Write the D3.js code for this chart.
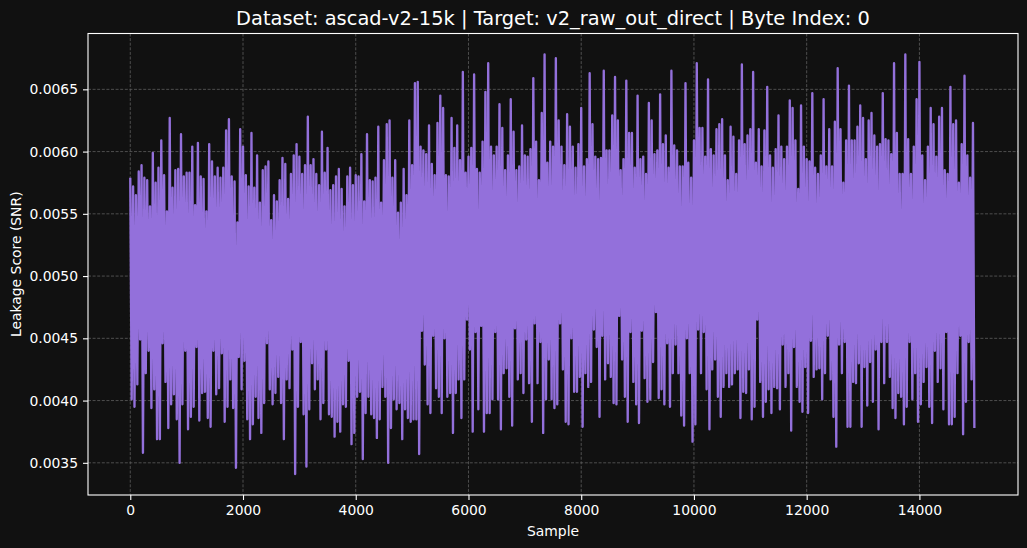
<!DOCTYPE html>
<html>
<head>
<meta charset="utf-8">
<script src="https://cdn.jsdelivr.net/npm/d3@7"></script>
<style>
  body { margin: 0; background: #111111; overflow: hidden; }
  text { font-family: 'DejaVu Sans', sans-serif; fill: #ffffff; }
</style>
</head>
<body>
<script>
// labels
const chartTitle = 'Dataset: ascad-v2-15k | Target: v2_raw_out_direct | Byte Index: 0';
const xLabel = 'Sample';
const yLabel = 'Leakage Score (SNR)';

// trace: 15000 samples, kept as min/max per 50-sample window
const sampleCount = 15000;
const windowSize = 50;

const xTicks = [0, 2000, 4000, 6000, 8000, 10000, 12000, 14000];
const yTicks = [0.0035, 0.0040, 0.0045, 0.0050, 0.0055, 0.0060, 0.0065];

const windowMax = [
  0.00579, 0.00572, 0.00565, 0.00584, 0.00589, 0.00579, 0.00577, 0.00556, 0.00599, 0.00575,
  0.00587, 0.00609, 0.00581, 0.00552, 0.00627, 0.00571, 0.00585, 0.00586, 0.00614, 0.00580,
  0.00583, 0.00583, 0.00604, 0.00557, 0.00607, 0.00580, 0.00578, 0.00552, 0.00606, 0.00592,
  0.00580, 0.00587, 0.00579, 0.00587, 0.00617, 0.00626, 0.00580, 0.00576, 0.00543, 0.00618,
  0.00604, 0.00581, 0.00572, 0.00615, 0.00571, 0.00597, 0.00559, 0.00585, 0.00588, 0.00592,
  0.00545, 0.00565, 0.00560, 0.00577, 0.00595, 0.00590, 0.00562, 0.00582, 0.00597, 0.00606,
  0.00596, 0.00582, 0.00589, 0.00628, 0.00589, 0.00594, 0.00582, 0.00573, 0.00616, 0.00583,
  0.00603, 0.00569, 0.00573, 0.00580, 0.00586, 0.00570, 0.00556, 0.00580, 0.00587, 0.00573,
  0.00581, 0.00580, 0.00598, 0.00560, 0.00614, 0.00577, 0.00576, 0.00579, 0.00620, 0.00559,
  0.00593, 0.00622, 0.00625, 0.00579, 0.00593, 0.00551, 0.00559, 0.00586, 0.00565, 0.00625,
  0.00589, 0.00655, 0.00656, 0.00604, 0.00601, 0.00598, 0.00621, 0.00590, 0.00581, 0.00623,
  0.00645, 0.00635, 0.00581, 0.00580, 0.00627, 0.00603, 0.00621, 0.00593, 0.00664, 0.00583,
  0.00596, 0.00603, 0.00662, 0.00586, 0.00583, 0.00608, 0.00648, 0.00671, 0.00604, 0.00597,
  0.00604, 0.00638, 0.00619, 0.00585, 0.00597, 0.00642, 0.00616, 0.00585, 0.00588, 0.00621,
  0.00597, 0.00596, 0.00602, 0.00659, 0.00608, 0.00577, 0.00631, 0.00678, 0.00591, 0.00608,
  0.00604, 0.00675, 0.00625, 0.00604, 0.00589, 0.00630, 0.00620, 0.00604, 0.00587, 0.00606,
  0.00635, 0.00588, 0.00594, 0.00663, 0.00622, 0.00596, 0.00594, 0.00595, 0.00665, 0.00601,
  0.00601, 0.00629, 0.00660, 0.00625, 0.00585, 0.00594, 0.00657, 0.00615, 0.00615, 0.00587,
  0.00645, 0.00594, 0.00596, 0.00582, 0.00639, 0.00625, 0.00598, 0.00601, 0.00646, 0.00606,
  0.00613, 0.00587, 0.00665, 0.00605, 0.00601, 0.00588, 0.00588, 0.00655, 0.00591, 0.00579,
  0.00609, 0.00671, 0.00619, 0.00619, 0.00596, 0.00658, 0.00602, 0.00597, 0.00618, 0.00622,
  0.00626, 0.00597, 0.00577, 0.00620, 0.00612, 0.00582, 0.00609, 0.00670, 0.00606, 0.00613,
  0.00618, 0.00664, 0.00591, 0.00618, 0.00588, 0.00617, 0.00652, 0.00597, 0.00587, 0.00602,
  0.00629, 0.00604, 0.00594, 0.00604, 0.00641, 0.00635, 0.00609, 0.00570, 0.00637, 0.00604,
  0.00594, 0.00592, 0.00647, 0.00587, 0.00582, 0.00597, 0.00642, 0.00588, 0.00618, 0.00588,
  0.00624, 0.00667, 0.00618, 0.00575, 0.00609, 0.00653, 0.00609, 0.00609, 0.00620, 0.00637,
  0.00627, 0.00594, 0.00625, 0.00631, 0.00613, 0.00604, 0.00606, 0.00647, 0.00610, 0.00609,
  0.00598, 0.00671, 0.00615, 0.00582, 0.00582, 0.00678, 0.00610, 0.00582, 0.00604, 0.00642,
  0.00672, 0.00597, 0.00577, 0.00604, 0.00635, 0.00622, 0.00596, 0.00628, 0.00635, 0.00585,
  0.00582, 0.00652, 0.00622, 0.00625, 0.00575, 0.00606, 0.00661, 0.00597, 0.00579, 0.00623
];

const windowMin = [
  0.00401, 0.00395, 0.00413, 0.00449, 0.00358, 0.00422, 0.00440, 0.00394, 0.00409, 0.00369,
  0.00369, 0.00446, 0.00415, 0.00378, 0.00397, 0.00405, 0.00385, 0.00350, 0.00397, 0.00440,
  0.00377, 0.00387, 0.00395, 0.00443, 0.00384, 0.00406, 0.00407, 0.00386, 0.00379, 0.00440,
  0.00405, 0.00410, 0.00438, 0.00383, 0.00395, 0.00417, 0.00394, 0.00346, 0.00435, 0.00409,
  0.00432, 0.00385, 0.00369, 0.00381, 0.00403, 0.00386, 0.00374, 0.00398, 0.00446, 0.00409,
  0.00397, 0.00406, 0.00419, 0.00398, 0.00369, 0.00417, 0.00410, 0.00441, 0.00341, 0.00395,
  0.00447, 0.00389, 0.00347, 0.00393, 0.00430, 0.00409, 0.00417, 0.00385, 0.00398, 0.00441,
  0.00389, 0.00387, 0.00371, 0.00383, 0.00375, 0.00397, 0.00395, 0.00432, 0.00365, 0.00374,
  0.00403, 0.00407, 0.00353, 0.00390, 0.00403, 0.00389, 0.00386, 0.00370, 0.00385, 0.00411,
  0.00403, 0.00350, 0.00378, 0.00401, 0.00393, 0.00398, 0.00369, 0.00393, 0.00386, 0.00383,
  0.00385, 0.00385, 0.00357, 0.00456, 0.00429, 0.00397, 0.00390, 0.00452, 0.00410, 0.00403,
  0.00390, 0.00450, 0.00403, 0.00406, 0.00374, 0.00406, 0.00417, 0.00386, 0.00417, 0.00465,
  0.00441, 0.00375, 0.00455, 0.00393, 0.00460, 0.00375, 0.00390, 0.00390, 0.00401, 0.00455,
  0.00401, 0.00377, 0.00422, 0.00426, 0.00403, 0.00380, 0.00458, 0.00417, 0.00422, 0.00406,
  0.00449, 0.00414, 0.00383, 0.00462, 0.00414, 0.00447, 0.00374, 0.00401, 0.00433, 0.00401,
  0.00394, 0.00397, 0.00462, 0.00425, 0.00383, 0.00381, 0.00450, 0.00407, 0.00407, 0.00419,
  0.00379, 0.00422, 0.00411, 0.00415, 0.00457, 0.00443, 0.00387, 0.00452, 0.00417, 0.00430,
  0.00419, 0.00398, 0.00397, 0.00468, 0.00433, 0.00403, 0.00383, 0.00455, 0.00415, 0.00397,
  0.00382, 0.00456, 0.00418, 0.00399, 0.00401, 0.00431, 0.00471, 0.00402, 0.00409, 0.00397,
  0.00446, 0.00395, 0.00422, 0.00445, 0.00422, 0.00388, 0.00380, 0.00450, 0.00422, 0.00367,
  0.00381, 0.00457, 0.00422, 0.00455, 0.00409, 0.00377, 0.00425, 0.00433, 0.00403, 0.00387,
  0.00411, 0.00422, 0.00411, 0.00413, 0.00422, 0.00425, 0.00386, 0.00407, 0.00406, 0.00425,
  0.00385, 0.00395, 0.00465, 0.00415, 0.00387, 0.00399, 0.00409, 0.00390, 0.00411, 0.00410,
  0.00393, 0.00445, 0.00411, 0.00422, 0.00376, 0.00443, 0.00411, 0.00399, 0.00391, 0.00427,
  0.00390, 0.00448, 0.00419, 0.00425, 0.00426, 0.00401, 0.00422, 0.00452, 0.00417, 0.00387,
  0.00363, 0.00445, 0.00422, 0.00447, 0.00379, 0.00379, 0.00415, 0.00414, 0.00430, 0.00379,
  0.00427, 0.00396, 0.00431, 0.00399, 0.00441, 0.00377, 0.00447, 0.00414, 0.00447, 0.00419,
  0.00394, 0.00386, 0.00406, 0.00403, 0.00381, 0.00395, 0.00447, 0.00401, 0.00422, 0.00383,
  0.00397, 0.00415, 0.00427, 0.00395, 0.00382, 0.00440, 0.00415, 0.00426, 0.00393, 0.00455,
  0.00381, 0.00381, 0.00387, 0.00422, 0.00452, 0.00373, 0.00399, 0.00447, 0.00417, 0.00378
];

const width = 1027;
const height = 548;
const margin = {top: 33.5, right: 9, bottom: 53, left: 88};
const plotW = width - margin.left - margin.right;
const plotH = height - margin.top - margin.bottom;

const svg = d3.select(document.body)
    .append('svg')
    .attr('width', width)
    .attr('height', height)
    .style('background', '#111111');

// max then min of each window, in sample order
const trace = [];
windowMax.forEach(function(v, i){
    trace.push({x: i * windowSize, y: v});
    trace.push({x: i * windowSize + windowSize / 2, y: windowMin[i]});
});

// matplotlib-like 5% auto margins
const xPad = (sampleCount - 1) * 0.05;
const xScale = d3.scaleLinear()
    .domain([-xPad, sampleCount - 1 + xPad])
    .range([margin.left, margin.left + plotW]);

const yExt = d3.extent(trace, function(d){ return d.y; });
const yPad = (yExt[1] - yExt[0]) * 0.05;
const yScale = d3.scaleLinear()
    .domain([yExt[0] - yPad, yExt[1] + yPad])
    .range([margin.top + plotH, margin.top]);

// grid
const grid = svg.append('g').attr('class', 'grid')
    .attr('stroke', '#5e5e5e')
    .attr('stroke-width', 0.8)
    .attr('stroke-dasharray', '3,1.6');
grid.selectAll('.gx').data(xTicks).enter().append('line')
    .attr('x1', function(d){ return xScale(d); })
    .attr('x2', function(d){ return xScale(d); })
    .attr('y1', margin.top)
    .attr('y2', margin.top + plotH);
grid.selectAll('.gy').data(yTicks).enter().append('line')
    .attr('y1', function(d){ return yScale(d); })
    .attr('y2', function(d){ return yScale(d); })
    .attr('x1', margin.left)
    .attr('x2', margin.left + plotW);

// line
const lineGen = d3.line()
    .x(function(d){ return xScale(d.x); })
    .y(function(d){ return yScale(d.y); });

svg.append('path')
    .attr('d', lineGen(trace))
    .attr('fill', 'none')
    .attr('stroke', '#9370db')
    .attr('stroke-width', 2.35)
    .attr('stroke-linejoin', 'round');

// axes
function styleAxis(g){
    g.select('.domain').remove();
    g.selectAll('.tick line').attr('stroke', '#ffffff').attr('stroke-width', 1.1);
    g.selectAll('.tick text')
        .attr('fill', '#ffffff')
        .style('font-family', "'DejaVu Sans', sans-serif")
        .style('font-size', '13.9px');
}

svg.append('g')
    .attr('transform', 'translate(0,' + (margin.top + plotH) + ')')
    .call(d3.axisBottom(xScale).tickValues(xTicks).tickSize(5).tickPadding(5).tickFormat(d3.format('d')))
    .call(styleAxis);

svg.append('g')
    .attr('transform', 'translate(' + margin.left + ',0)')
    .call(d3.axisLeft(yScale).tickValues(yTicks).tickSize(5).tickPadding(5).tickFormat(d3.format('.4f')))
    .call(styleAxis);

// spines
svg.append('rect')
    .attr('x', margin.left)
    .attr('y', margin.top)
    .attr('width', plotW)
    .attr('height', plotH)
    .attr('fill', 'none')
    .attr('stroke', '#ffffff')
    .attr('stroke-width', 1.1);

// labels
svg.append('text')
    .attr('x', margin.left + plotW / 2)
    .attr('y', 25)
    .attr('text-anchor', 'middle')
    .style('font-size', '19.4px')
    .text(chartTitle);

svg.append('text')
    .attr('x', margin.left + plotW / 2)
    .attr('y', 536)
    .attr('text-anchor', 'middle')
    .style('font-size', '13.9px')
    .text(xLabel);

svg.append('text')
    .attr('transform', 'translate(21,' + (margin.top + plotH / 2) + ') rotate(-90)')
    .attr('text-anchor', 'middle')
    .style('font-size', '13.9px')
    .text(yLabel);
</script>
</body>
</html>
